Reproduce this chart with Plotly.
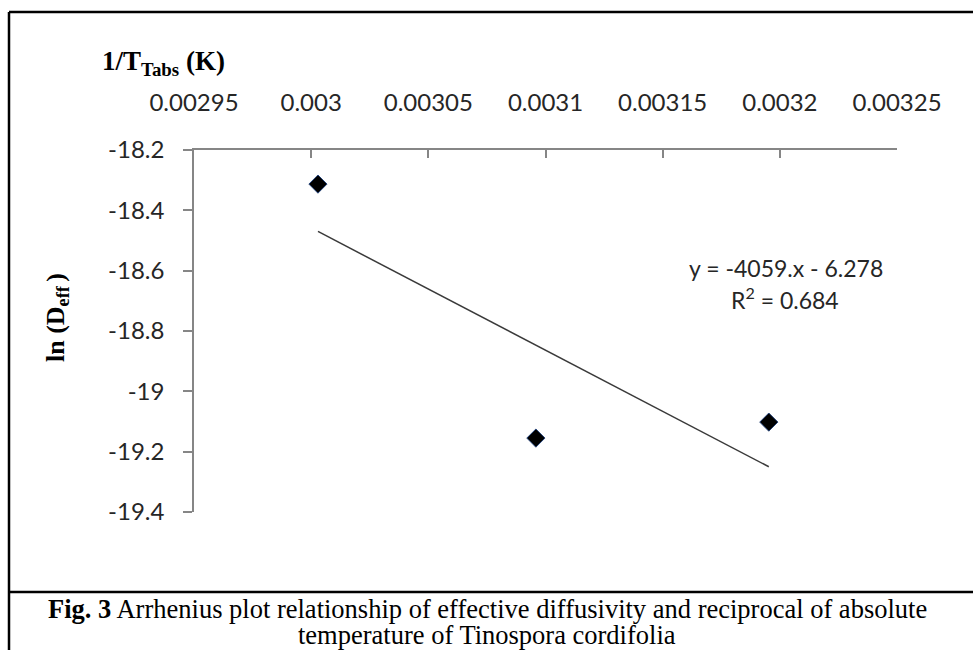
import plotly.graph_objects as go

# ---- data ----
inv_T = [0.0030029, 0.0030959, 0.0031953]          # 1/T_abs (1/K)
ln_Deff = [-18.313, -19.155, -19.102]               # ln(Deff)
trend_x = [0.0030029, 0.0031953]                    # linear trendline ends
trend_y = [-18.470, -19.250]
eq_text = "y = -4059.x - 6.278"
r2_text = "R<sup>2</sup> = 0.684"

x_ticks = [0.00295, 0.003, 0.00305, 0.0031, 0.00315, 0.0032, 0.00325]
x_tick_labels = ["0.00295", "0.003", "0.00305", "0.0031", "0.00315", "0.0032", "0.00325"]
y_ticks = [-18.2, -18.4, -18.6, -18.8, -19.0, -19.2, -19.4]
y_tick_labels = ["-18.2", "-18.4", "-18.6", "-18.8", "-19", "-19.2", "-19.4"]

caption_bold = "Fig. 3"
caption_line1 = " Arrhenius plot relationship of effective diffusivity and reciprocal of absolute"
caption_line2 = "temperature of Tinospora cordifolia"

# ---- layout geometry (pixels) ----
W, H = 973, 650
L, R, T, B = 194, 897, 150, 512
pw, ph = R - L, B - T


def px(x):
    return (x - L) / pw


def py(y):
    return (B - y) / ph


sans = "Lato, 'Open Sans', sans-serif"
serif = "'Liberation Serif', 'DejaVu Serif', serif"
axis_grey = "#868686"
tick_font = dict(family=sans, size=24, color="#262626")

fig = go.Figure()
fig.add_trace(go.Scatter(
    x=trend_x, y=trend_y, mode="lines",
    line=dict(color="#3a3a3a", width=1.5), showlegend=False, hoverinfo="skip"))
fig.add_trace(go.Scatter(
    x=inv_T, y=ln_Deff, mode="markers",
    marker=dict(symbol="diamond", size=14, color="black",
                line=dict(color="#27457a", width=1)),
    showlegend=False))

fig.update_layout(
    width=W, height=H, autosize=False,
    margin=dict(l=L, r=W - R, t=T, b=H - B, pad=0),
    paper_bgcolor="white", plot_bgcolor="white",
    font=dict(family=sans, size=23, color="#262626"),
    xaxis=dict(
        side="top", range=[0.00295, 0.00325],
        tickvals=x_ticks, ticktext=x_tick_labels,
        ticks="inside", ticklen=8, tickcolor=axis_grey, tickwidth=1.5,
        ticklabelstandoff=28,
        showline=True, linecolor=axis_grey, linewidth=1.5,
        showgrid=False, zeroline=False,
        tickfont=tick_font,
    ),
    yaxis=dict(
        range=[-19.4, -18.2],
        tickvals=y_ticks, ticktext=y_tick_labels,
        ticks="outside", ticklen=9, tickcolor=axis_grey, tickwidth=1.5,
        ticklabelstandoff=14,
        showline=True, linecolor=axis_grey, linewidth=1.5,
        showgrid=False, zeroline=False,
        tickfont=tick_font,
    ),
)

annotations = [
    # x-axis title
    dict(text="<b>1/T<sub>Tabs</sub> (K)</b>", x=px(100), y=py(63),
         xanchor="left", yanchor="middle",
         font=dict(family=serif, size=27, color="black")),
    # y-axis title
    dict(text="<b>ln (D<sub>eff </sub>)</b>", x=px(57), y=py(318),
         xanchor="center", yanchor="middle", textangle=-90,
         font=dict(family=serif, size=26, color="black")),
    # trendline equation
    dict(text=eq_text, x=px(786), y=py(268), xanchor="center", yanchor="middle",
         font=dict(family=sans, size=23, color="#262626")),
    dict(text=r2_text, x=px(785), y=py(298), xanchor="center", yanchor="middle",
         font=dict(family=sans, size=23, color="#262626")),
    # caption
    dict(text="<b>" + caption_bold + "</b>" + caption_line1, x=px(487), y=py(609),
         xanchor="center", yanchor="middle",
         font=dict(family=serif, size=26.5, color="black")),
    dict(text=caption_line2, x=px(487), y=py(635),
         xanchor="center", yanchor="middle",
         font=dict(family=serif, size=26.5, color="black")),
]
for a in annotations:
    a.update(xref="paper", yref="paper", showarrow=False)
fig.update_layout(annotations=annotations)

# frame: top line, left line, caption separator
frame = [
    dict(x0=px(9), x1=px(W + 5), y0=py(12), y1=py(12), width=2.5),
    dict(x0=px(9), x1=px(9), y0=py(12), y1=py(H + 10), width=2.5),
    dict(x0=px(9), x1=px(W + 5), y0=py(592), y1=py(592), width=2.5),
]
fig.update_layout(shapes=[
    dict(type="line", xref="paper", yref="paper", x0=f["x0"], x1=f["x1"],
         y0=f["y0"], y1=f["y1"], line=dict(color="black", width=f["width"]))
    for f in frame
])

fig.write_html("out.html", config={"displayModeBar": False},
               post_script="document.body.style.margin='0';document.body.style.overflow='hidden';")
